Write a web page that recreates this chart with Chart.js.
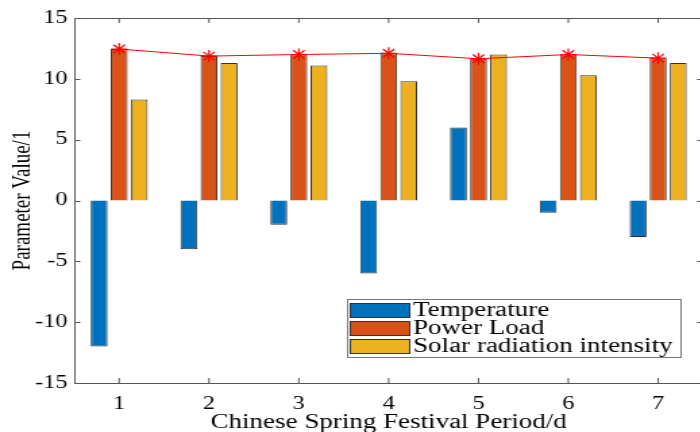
<!DOCTYPE html>
<html>
<head>
<meta charset="utf-8">
<script src="https://cdn.jsdelivr.net/npm/chart.js@4.4.1/dist/chart.umd.min.js"></script>
<style>
  html, body { margin: 0; padding: 0; background: #fff; overflow: hidden; }
  /* la figure d'origine est etiree horizontalement */
  #wrap { width: 528px; height: 432px; transform: scaleX(1.35); transform-origin: 0 0; }
</style>
</head>
<body>
<div id="wrap"><canvas id="barChart" width="528" height="432"></canvas></div>
<script>
// donnees
const days = ['1', '2', '3', '4', '5', '6', '7'];
const temperature = [-12, -4, -2, -6, 6, -1, -3];
const powerLoad = [12.45, 11.87, 12.0, 12.1, 11.65, 12.0, 11.7];
const solarRadiation = [8.3, 11.3, 11.1, 9.8, 12.0, 10.3, 11.3];
const yTicks = [-15, -10, -5, 0, 5, 10, 15];

const serif = '"Liberation Serif", "Times New Roman", serif';

// cadre + graduations vers l'interieur (style MATLAB)
const boxTicks = {
  id: 'boxTicks',
  afterDraw(chart) {
    const { ctx, chartArea: a, scales } = chart;
    ctx.save();
    ctx.strokeStyle = '#555';
    ctx.lineWidth = 1;
    ctx.strokeRect(a.left + 0.5, a.top + 0.5, a.right - a.left, a.bottom - a.top);
    ctx.beginPath();
    days.forEach((d, i) => {
      const x = scales.x.getPixelForValue(i);
      ctx.moveTo(x, a.bottom); ctx.lineTo(x, a.bottom - 5);
      ctx.moveTo(x, a.top); ctx.lineTo(x, a.top + 5);
    });
    yTicks.forEach(v => {
      const y = Math.round(scales.y.getPixelForValue(v)) + 0.5;
      ctx.moveTo(a.left, y); ctx.lineTo(a.left + 4.5, y);
      ctx.moveTo(a.right, y); ctx.lineTo(a.right - 4.5, y);
    });
    ctx.stroke();
    ctx.restore();
  }
};

// legende dans le coin bas droit
const boxLegend = {
  id: 'boxLegend',
  afterDraw(chart) {
    const { ctx, chartArea: a } = chart;
    const sets = chart.data.datasets.filter(ds => ds.type !== 'line');
    const x0 = 257, y0 = a.bottom - 84, w = 247, rowH = 18;
    ctx.save();
    ctx.fillStyle = '#fff';
    ctx.fillRect(x0, y0, w, rowH * sets.length + 4);
    ctx.strokeStyle = '#777';
    ctx.lineWidth = 1;
    ctx.strokeRect(x0 + 0.5, y0 + 0.5, w, rowH * sets.length + 4);
    ctx.font = '20px ' + serif;
    ctx.textBaseline = 'middle';
    sets.forEach((ds, i) => {
      const cy = y0 + 11 + i * rowH;
      ctx.fillStyle = ds.backgroundColor;
      ctx.fillRect(x0 + 2, cy - 7, 44, 14);
      ctx.strokeStyle = '#333';
      ctx.strokeRect(x0 + 2.5, cy - 6.5, 44, 14);
      ctx.fillStyle = '#000';
      ctx.fillText(ds.label, x0 + 49, cy + 1);
    });
    ctx.restore();
  }
};

const ctx = document.getElementById('barChart');
new Chart(ctx, {
  data: {
    labels: days,
    datasets: [
      {
        type: 'line',
        label: 'Power Load line',
        data: powerLoad,
        borderColor: '#ff0000',
        borderWidth: 1,
        pointStyle: 'star',
        pointRadius: 6,
        pointBorderColor: '#ff0000',
        pointBorderWidth: 1.2,
        tension: 0,
        order: 0
      },
      {
        type: 'bar',
        label: 'Temperature',
        data: temperature,
        backgroundColor: '#0072BD',
        borderColor: '#333',
        borderWidth: 1,
        order: 1
      },
      {
        type: 'bar',
        label: 'Power Load',
        data: powerLoad,
        backgroundColor: '#D95319',
        borderColor: '#333',
        borderWidth: 1,
        order: 1
      },
      {
        type: 'bar',
        label: 'Solar radiation intensity',
        data: solarRadiation,
        backgroundColor: '#EDB120',
        borderColor: '#333',
        borderWidth: 1,
        order: 1
      }
    ]
  },
  options: {
    responsive: false,
    animation: false,
    layout: { padding: { top: 18, right: 1.5, left: 0, bottom: 0 } },
    datasets: { bar: { categoryPercentage: 0.67, barPercentage: 0.84 } },
    plugins: { legend: { display: false }, tooltip: { enabled: false } },
    scales: {
      x: {
        type: 'category',
        offset: true,
        grid: { display: false, drawTicks: false },
        border: { display: false },
        ticks: { color: '#000', font: { family: serif, size: 18 }, padding: 10 },
        title: {
          display: true,
          text: 'Chinese Spring Festival Period/d',
          color: '#000',
          font: { family: serif, size: 20 },
          padding: { top: 0, bottom: -3 }
        },
        afterFit(scale) { scale.height = 49; }
      },
      y: {
        min: -15,
        max: 15,
        afterBuildTicks(scale) { scale.ticks = yTicks.map(v => ({ value: v })); },
        grid: { display: false, drawTicks: false },
        border: { display: false },
        ticks: { color: '#000', font: { family: serif, size: 18 }, padding: 5 },
        title: {
          display: true,
          text: 'Parameter Value/1',
          color: '#000',
          font: { family: serif, size: 19 },
          padding: { top: 6, bottom: 0 }
        },
        afterFit(scale) { scale.width = 55; }
      }
    }
  },
  plugins: [boxTicks, boxLegend]
});
</script>
</body>
</html>
